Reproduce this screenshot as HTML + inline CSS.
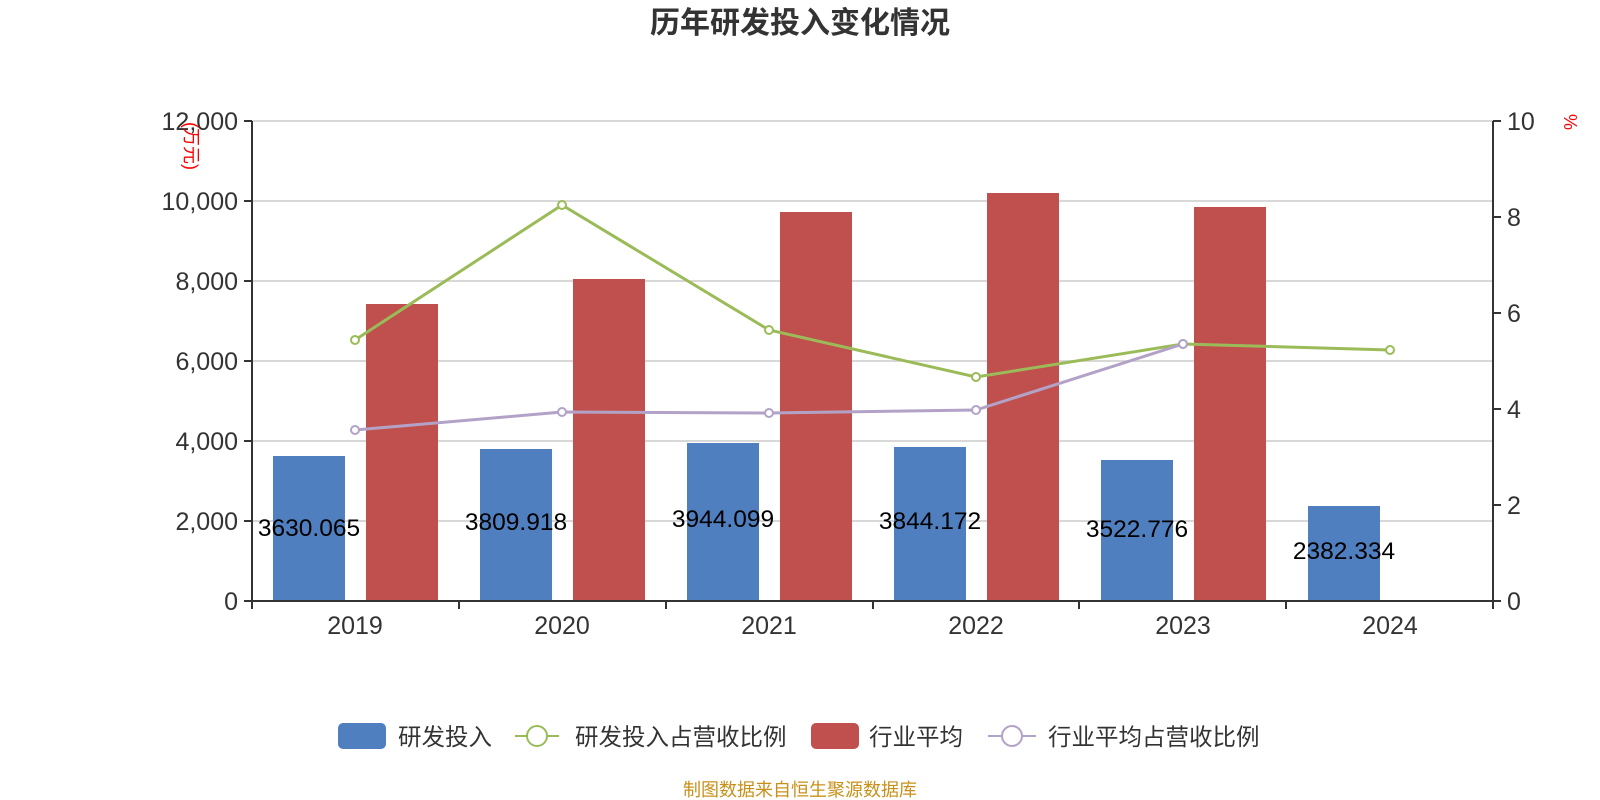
<!DOCTYPE html><html><head><meta charset="utf-8"><style>body{margin:0;background:#fff}svg{display:block}text{font-family:"Liberation Sans","Noto Sans CJK SC",sans-serif}</style></head><body>
<svg width="1600" height="800" xmlns="http://www.w3.org/2000/svg">
<text x="800" y="33" text-anchor="middle" font-size="30" font-weight="bold" fill="#333">历年研发投入变化情况</text>
<g stroke="#ccc" stroke-width="1.5">
<line x1="252" y1="121" x2="1493" y2="121"/><line x1="252" y1="201" x2="1493" y2="201"/><line x1="252" y1="281" x2="1493" y2="281"/><line x1="252" y1="361" x2="1493" y2="361"/><line x1="252" y1="441" x2="1493" y2="441"/><line x1="252" y1="521" x2="1493" y2="521"/></g>
<g fill="#4f7fbf">
<rect x="273" y="456" width="72" height="145"/><rect x="480" y="449" width="72" height="152"/><rect x="687" y="443" width="72" height="158"/><rect x="894" y="447" width="72" height="154"/><rect x="1101" y="460" width="72" height="141"/><rect x="1308" y="506" width="72" height="95"/></g>
<g fill="#c0504d">
<rect x="366" y="304" width="72" height="297"/><rect x="573" y="279" width="72" height="322"/><rect x="780" y="212" width="72" height="389"/><rect x="987" y="193" width="72" height="408"/><rect x="1194" y="207" width="72" height="394"/></g>
<g stroke="#333" stroke-width="2" fill="none">
<line x1="252" y1="121" x2="252" y2="601"/><line x1="1493" y1="121" x2="1493" y2="601"/><line x1="252" y1="601" x2="1493" y2="601"/>
<path d="M244 121h8M244 201h8M244 281h8M244 361h8M244 441h8M244 521h8M244 601h8"/>
<path d="M1493 121h8M1493 217h8M1493 313h8M1493 409h8M1493 505h8M1493 601h8"/>
<path d="M252 601v8M459 601v8M666 601v8M873 601v8M1079 601v8M1286 601v8M1493 601v8"/></g>
<g font-size="25" fill="#333" text-anchor="end">
<text x="238" y="130">12,000</text><text x="238" y="210">10,000</text><text x="238" y="290">8,000</text><text x="238" y="370">6,000</text><text x="238" y="450">4,000</text><text x="238" y="530">2,000</text><text x="238" y="610">0</text></g>
<g font-size="25" fill="#333">
<text x="1507" y="130">10</text><text x="1507" y="226">8</text><text x="1507" y="322">6</text><text x="1507" y="418">4</text><text x="1507" y="514">2</text><text x="1507" y="610">0</text></g>
<g font-size="25" fill="#333" text-anchor="middle">
<text x="355" y="634">2019</text><text x="562" y="634">2020</text><text x="769" y="634">2021</text><text x="976" y="634">2022</text><text x="1183" y="634">2023</text><text x="1390" y="634">2024</text></g>
<text transform="translate(185,146) rotate(90)" font-size="18" fill="red" text-anchor="middle">(万元)</text>
<text transform="translate(1564,122) rotate(90)" font-size="18" fill="red" text-anchor="middle">%</text>
<polyline points="355,340 562,205 769,330 976,377 1183,344 1390,350" fill="none" stroke="#9bbb59" stroke-width="3"/>
<polyline points="355,430 562,412 769,413 976,410 1183,344" fill="none" stroke="#b3a2c7" stroke-width="3"/>
<g fill="#fff" stroke="#9bbb59" stroke-width="2"><circle cx="355" cy="340" r="4"/><circle cx="562" cy="205" r="4"/><circle cx="769" cy="330" r="4"/><circle cx="976" cy="377" r="4"/><circle cx="1183" cy="344" r="4"/><circle cx="1390" cy="350" r="4"/></g>
<g fill="#fff" stroke="#b3a2c7" stroke-width="2"><circle cx="355" cy="430" r="4"/><circle cx="562" cy="412" r="4"/><circle cx="769" cy="413" r="4"/><circle cx="976" cy="410" r="4"/><circle cx="1183" cy="344" r="4"/></g>
<g font-size="24.5" fill="#000" text-anchor="middle">
<text x="309" y="536">3630.065</text><text x="516" y="530">3809.918</text><text x="723" y="527">3944.099</text><text x="930" y="529">3844.172</text><text x="1137" y="537">3522.776</text><text x="1344" y="559">2382.334</text></g>
<rect x="338" y="723" width="48" height="26" rx="5" fill="#4f7fbf"/>
<text x="398" y="745" font-size="23.5" fill="#333">研发投入</text>
<line x1="515" y1="736" x2="559" y2="736" stroke="#9bbb59" stroke-width="2"/><circle cx="537" cy="736" r="10" fill="#fff" stroke="#9bbb59" stroke-width="2"/>
<text x="575" y="745" font-size="23.5" fill="#333">研发投入占营收比例</text>
<rect x="811" y="723" width="48" height="26" rx="5" fill="#c0504d"/>
<text x="869" y="745" font-size="23.5" fill="#333">行业平均</text>
<line x1="988" y1="736" x2="1036" y2="736" stroke="#b3a2c7" stroke-width="2"/><circle cx="1012" cy="736" r="10" fill="#fff" stroke="#b3a2c7" stroke-width="2"/>
<text x="1048" y="745" font-size="23.5" fill="#333">行业平均占营收比例</text>
<text x="800" y="796" font-size="18" fill="#c8901a" text-anchor="middle">制图数据来自恒生聚源数据库</text>
</svg></body></html>
